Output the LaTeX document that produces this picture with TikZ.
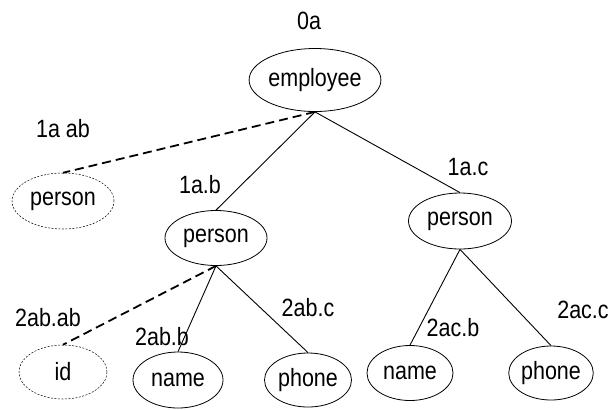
\documentclass[tikz,border=0pt]{standalone}
\usepackage{fontspec}
\setmainfont[FakeStretch=0.86]{Liberation Sans}
\usetikzlibrary{shapes.geometric}
\begin{document}
\begin{tikzpicture}[x=1bp,y=-1bp,
  every node/.style={font=\fontsize{25bp}{27bp}\selectfont, inner sep=0pt},
  entity/.style={ellipse, draw, line width=0.8bp},
  optentity/.style={ellipse, draw, line width=0.5bp, dash pattern=on 2bp off 1.5bp},
  edge/.style={line width=0.9bp},
  optedge/.style={line width=1.8bp, dash pattern=on 9bp off 5bp},
  tag/.style={anchor=center}]
\useasboundingbox (0,0) rectangle (616,409);

% nodes of the tree
\node[entity, minimum width=131bp, minimum height=63bp] (emp) at (315,80) {employee};
\node[optentity, minimum width=102bp, minimum height=56bp] (pa) at (63,201) {person};
\node[entity, minimum width=102bp, minimum height=55bp] (pb) at (216,238) {person};
\node[entity, minimum width=103bp, minimum height=56bp] (pc) at (460,221) {person};
\node[optentity, minimum width=88bp, minimum height=54bp] (id) at (63,372) {id};
\node[entity, minimum width=90bp, minimum height=56bp] (nb) at (178,380) {name};
\node[entity, minimum width=87bp, minimum height=54bp] (phb) at (308,380) {phone};
\node[entity, minimum width=86bp, minimum height=55bp] (nc) at (410,373) {name};
\node[entity, minimum width=78bp, minimum height=54bp] (phc) at (551,373) {phone};

% path labels
\node[tag] (l0) at (309,21) {0a};
\node[tag] (lab) at (63,129) {1a ab};
\node[tag] (lb) at (200,185) {1a.b};
\node[tag] (lc) at (468,167) {1a.c};
\node[tag] (l2ab) at (48,318) {2ab.ab};
\node[tag] (l2b) at (162,337) {2ab.b};
\node[tag] (l2c) at (308,308) {2ab.c};
\node[tag] (l3b) at (453,328) {2ac.b};
\node[tag] (l3c) at (583,310) {2ac.c};

% connectors
\draw[optedge] (emp.south) -- (pa.north);
\draw[edge] (emp.south) -- (pb.north);
\draw[edge] (emp.south) -- (pc.north);
\draw[optedge] (pb.south) -- (id.north);
\draw[edge] (pb.south) -- (nb.north);
\draw[edge] (pb.south) -- (phb.north);
\draw[edge] (pc.south) -- (nc.north);
\draw[edge] (pc.south) -- (phc.north);
\end{tikzpicture}
\end{document}
